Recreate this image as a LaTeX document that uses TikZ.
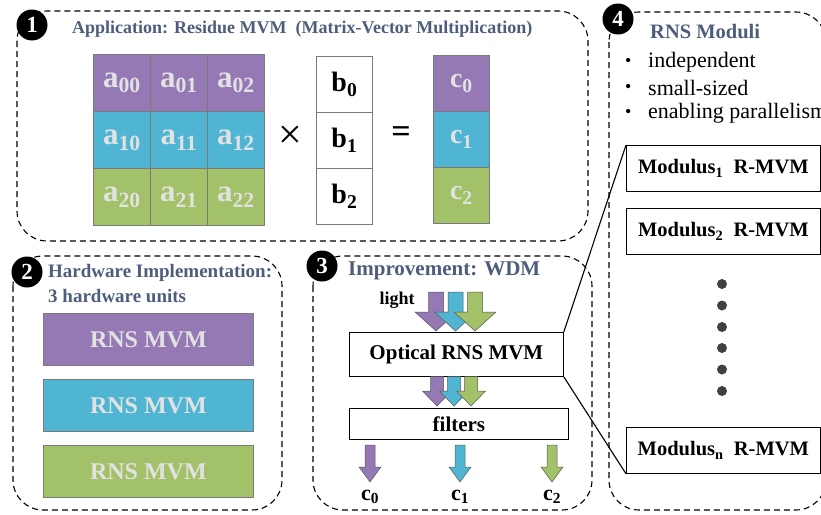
\documentclass[tikz,border=0pt]{standalone}
\usepackage{fontspec}
\setmainfont{Liberation Serif}
\usetikzlibrary{calc}

\definecolor{cpurple}{HTML}{9479B5}
\definecolor{ccyan}{HTML}{50B5D2}
\definecolor{cgreen}{HTML}{A2C168}
\definecolor{ctitle}{HTML}{4E5D7C}
\definecolor{clabel}{HTML}{E2E2E2}
\definecolor{cedge}{HTML}{7A7A7A}
\definecolor{cdot}{HTML}{404040}

\newcommand{\fs}[1]{\fontsize{#1}{#1}\selectfont}

% downward block arrow: centre x, top y, shoulder y, tip y, half shaft, half head, colour
\newcommand{\wdmarrow}[7]{%
  \filldraw[fill=#7, draw=black!65, line width=0.5pt]
    (#1-#5,#2) -- (#1+#5,#2) -- (#1+#5,#3) -- (#1+#6,#3) -- (#1,#4)
    -- (#1-#6,#3) -- (#1-#5,#3) -- cycle;}

\tikzset{
  panel/.style={draw=black, line width=1.1pt, dash pattern=on 6pt off 4pt, rounded corners=30pt},
  badge/.style={circle, fill=black, text=white, inner sep=0pt, minimum size=31pt, font=\fs{23}\bfseries},
  ttl/.style={text=ctitle, inner sep=0pt, anchor=west, font=\fs{18}\bfseries},
  cell/.style={draw=cedge, line width=0.8pt, minimum width=57pt, minimum height=57pt,
    inner sep=0pt, anchor=north west, text=clabel, font=\fs{31}\bfseries},
  vcell/.style={draw=cedge, line width=0.8pt, minimum width=56pt, minimum height=56pt,
    inner sep=0pt, anchor=north west, font=\fs{28}\bfseries},
  hwbar/.style={draw=cedge, line width=0.8pt, minimum width=210pt, minimum height=52pt,
    inner sep=0pt, anchor=north west, text=clabel, font=\fs{24}\bfseries},
  plainbox/.style={draw=black, line width=0.8pt, inner sep=0pt, anchor=north west, font=\fs{21}\bfseries},
  modbox/.style={draw=black, line width=0.8pt, minimum width=194pt, minimum height=46pt,
    inner sep=0pt, anchor=north west, font=\fs{20.5}\bfseries},
  bul/.style={inner sep=0pt, anchor=west, font=\fs{22}},
  link/.style={draw=black, line width=1.1pt},
}

\begin{document}
\begin{tikzpicture}[x=1pt, y=-1pt]
\useasboundingbox (0,0) rectangle (821,514);
\clip (0,0) rectangle (821,514);

% ---------- panels ----------
\draw[panel] (17,11) rectangle (588,241);
\draw[panel] (13,256) rectangle (282,510);
\draw[panel] (313,256) rectangle (592,510);
\draw[panel] (609,12) rectangle (826,510);

% ---------- panel 1: residue MVM ----------
\node[ttl] (t1) at (72,29) {Application: Residue MVM\ \ (Matrix-Vector Multiplication)};

\node[cell, fill=cpurple] (a00) at (93,54)  {a\textsubscript{00}};
\node[cell, fill=cpurple] (a01) at (150,54) {a\textsubscript{01}};
\node[cell, fill=cpurple] (a02) at (207,54) {a\textsubscript{02}};
\node[cell, fill=ccyan]   (a10) at (93,111)  {a\textsubscript{10}};
\node[cell, fill=ccyan]   (a11) at (150,111) {a\textsubscript{11}};
\node[cell, fill=ccyan]   (a12) at (207,111) {a\textsubscript{12}};
\node[cell, fill=cgreen]  (a20) at (93,168)  {a\textsubscript{20}};
\node[cell, fill=cgreen]  (a21) at (150,168) {a\textsubscript{21}};
\node[cell, fill=cgreen]  (a22) at (207,168) {a\textsubscript{22}};

\node[font=\fs{42}, inner sep=0pt] (times) at (290,137) {×};

\node[vcell, fill=white] (b0) at (316,56)  {b\textsubscript{0}};
\node[vcell, fill=white] (b1) at (316,112) {b\textsubscript{1}};
\node[vcell, fill=white] (b2) at (316,168) {b\textsubscript{2}};

\node[font=\fs{34}\bfseries, inner sep=0pt] (eq) at (401,135) {=};

\node[vcell, fill=cpurple, text=clabel] (c0) at (433,55)  {c\textsubscript{0}};
\node[vcell, fill=ccyan,   text=clabel] (c1) at (433,111) {c\textsubscript{1}};
\node[vcell, fill=cgreen,  text=clabel] (c2) at (433,167) {c\textsubscript{2}};

% ---------- panel 2: hardware ----------
\node[ttl, font=\fs{19}\bfseries] (t2a) at (48,273) {Hardware Implementation:};
\node[ttl, font=\fs{19}\bfseries] (t2b) at (48,296) {3 hardware units};
\node[hwbar, fill=cpurple] (hw0) at (43,313) {RNS MVM};
\node[hwbar, fill=ccyan]   (hw1) at (43,379) {RNS MVM};
\node[hwbar, fill=cgreen]  (hw2) at (43,445) {RNS MVM};

% ---------- panel 3: WDM ----------
\node[ttl, font=\fs{21}\bfseries] (t3) at (348,271) {Improvement: WDM};
\node[font=\fs{18}\bfseries, inner sep=0pt] (light) at (397,300) {light};

\node[plainbox, minimum width=214pt, minimum height=44pt] (opt) at (349,332) {Optical RNS MVM};
\node[plainbox, minimum width=219pt, minimum height=31pt] (filt) at (349,408) {filters};

% light entering the optical unit
\wdmarrow{436}{292}{312}{331}{7.5}{21}{cpurple}
\wdmarrow{455.5}{292}{312}{331}{7.5}{21}{ccyan}
\wdmarrow{475}{292}{312}{331}{7.5}{21}{cgreen}
% combined output towards the filters
\wdmarrow{437}{376.5}{391}{406}{6.5}{14.5}{cpurple}
\wdmarrow{454}{376.5}{391}{406}{6.5}{14.5}{ccyan}
\wdmarrow{471}{376.5}{391}{406}{6.5}{14.5}{cgreen}
% separated channels
\wdmarrow{370}{445}{467}{482}{5}{11}{cpurple}
\wdmarrow{460}{445}{467}{482}{5}{11}{ccyan}
\wdmarrow{552}{445}{467}{482}{5}{11}{cgreen}

\node[font=\fs{22}\bfseries, inner sep=0pt] (o0) at (370,497) {c\textsubscript{0}};
\node[font=\fs{22}\bfseries, inner sep=0pt] (o1) at (460,497) {c\textsubscript{1}};
\node[font=\fs{22}\bfseries, inner sep=0pt] (o2) at (552,497) {c\textsubscript{2}};

% ---------- panel 4: RNS moduli ----------
\node[ttl, font=\fs{20.5}\bfseries] (t4) at (650,32) {RNS Moduli};
\node[bul, font=\fs{18}] (p1) at (625,62)  {•};
\node[bul, font=\fs{18}] (p2) at (625,88)  {•};
\node[bul, font=\fs{18}] (p3) at (625,113) {•};
\node[bul] (l1) at (648,62)  {independent};
\node[bul] (l2) at (648,88)  {small-sized};
\node[bul] (l3) at (648,113) {enabling parallelism};

\node[modbox] (m1) at (626,145) {Modulus\textsubscript{1}\ \ R-MVM};
\node[modbox] (m2) at (626,208) {Modulus\textsubscript{2}\ \ R-MVM};
\node[modbox] (mn) at (626,427) {Modulus\textsubscript{n}\ \ R-MVM};

\foreach \yy/\nm in {284/d1,305.5/d2,327/d3,348/d4,369.5/d5,391/d6}
  \fill[cdot] (722,\yy) circle (5pt) coordinate (\nm);

\draw[link] (opt.north east) -- (m1.north west);
\draw[link] (opt.south east) -- (mn.south west);

% ---------- step badges ----------
\node[badge] (n1) at (32,25)  {1};
\node[badge] (n2) at (27,272) {2};
\node[badge] (n3) at (322,266) {3};
\node[badge] (n4) at (618,19) {4};
\end{tikzpicture}
\end{document}
